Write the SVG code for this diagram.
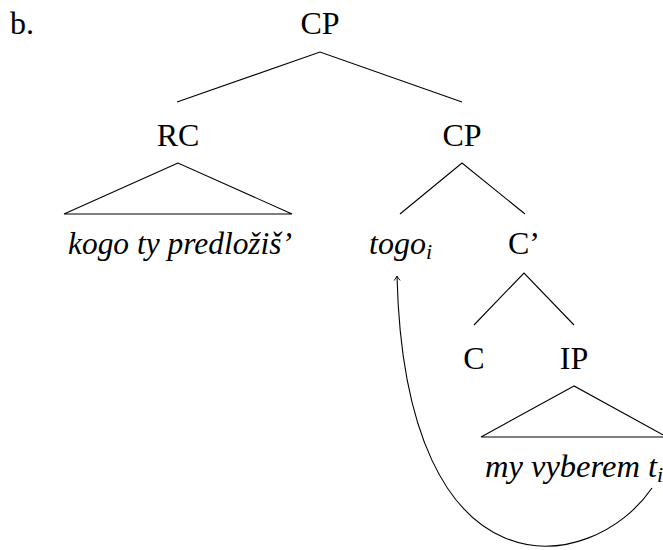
<svg xmlns="http://www.w3.org/2000/svg" width="663" height="550" viewBox="0 0 663 550">
  <style>
    text { font-family: "Liberation Serif", "Times New Roman", serif; font-size: 32px; fill: #000; }
    .lbl { text-anchor: middle; }
    .it { font-style: italic; }
    .sub { font-size: 22px; }
    .edge { stroke: #000; stroke-width: 1.1; fill: none; stroke-linejoin: miter; }
  </style>
  <defs>
    <marker id="tip" viewBox="-6 -4 8 8" refX="0" refY="0" markerWidth="8" markerHeight="8" markerUnits="userSpaceOnUse" orient="auto">
      <path d="M -4.5 -3 Q -1.5 -0.8 0 0 Q -1.5 0.8 -4.5 3" fill="none" stroke="#000" stroke-width="0.9"/>
    </marker>
  </defs>

  <text x="10" y="34">b.</text>

  <!-- tree edges and triangles -->
  <g id="connectors">
    <polyline class="edge" points="177,102 320,52 462,102"/>
    <polygon class="edge" points="178,163 64,214 292,214"/>
    <polyline class="edge" points="400,214 462,163 525,214"/>
    <polyline class="edge" points="474,325 524,273 574,325"/>
    <polygon class="edge" points="574,386 481,437 667,437"/>
    <!-- movement arrow from trace to landing site -->
    <path class="edge" d="M 652 488 C 592 576, 405 604, 397 276" marker-end="url(#tip)"/>
  </g>

  <g id="cp-root"><text class="lbl" x="320" y="34">CP</text></g>
  <g id="rc"><text class="lbl" x="178" y="146">RC</text></g>
  <g id="cp-inner"><text class="lbl" x="462" y="146">CP</text></g>
  <g id="rc-content"><text class="it" x="68" y="254" textLength="224" lengthAdjust="spacingAndGlyphs">kogo ty predložiš’</text></g>
  <g id="togo"><text class="it" x="369" y="254">togo<tspan class="sub" dy="5">i</tspan></text></g>
  <g id="c-bar"><text class="lbl" x="524" y="254">C’</text></g>
  <g id="c"><text class="lbl" x="474" y="369">C</text></g>
  <g id="ip"><text class="lbl" x="574" y="369">IP</text></g>
  <g id="ip-content"><text class="it" x="485" y="477"><tspan textLength="172" lengthAdjust="spacingAndGlyphs">my vyberem t</tspan><tspan class="sub" dy="5">i</tspan></text></g>
</svg>
